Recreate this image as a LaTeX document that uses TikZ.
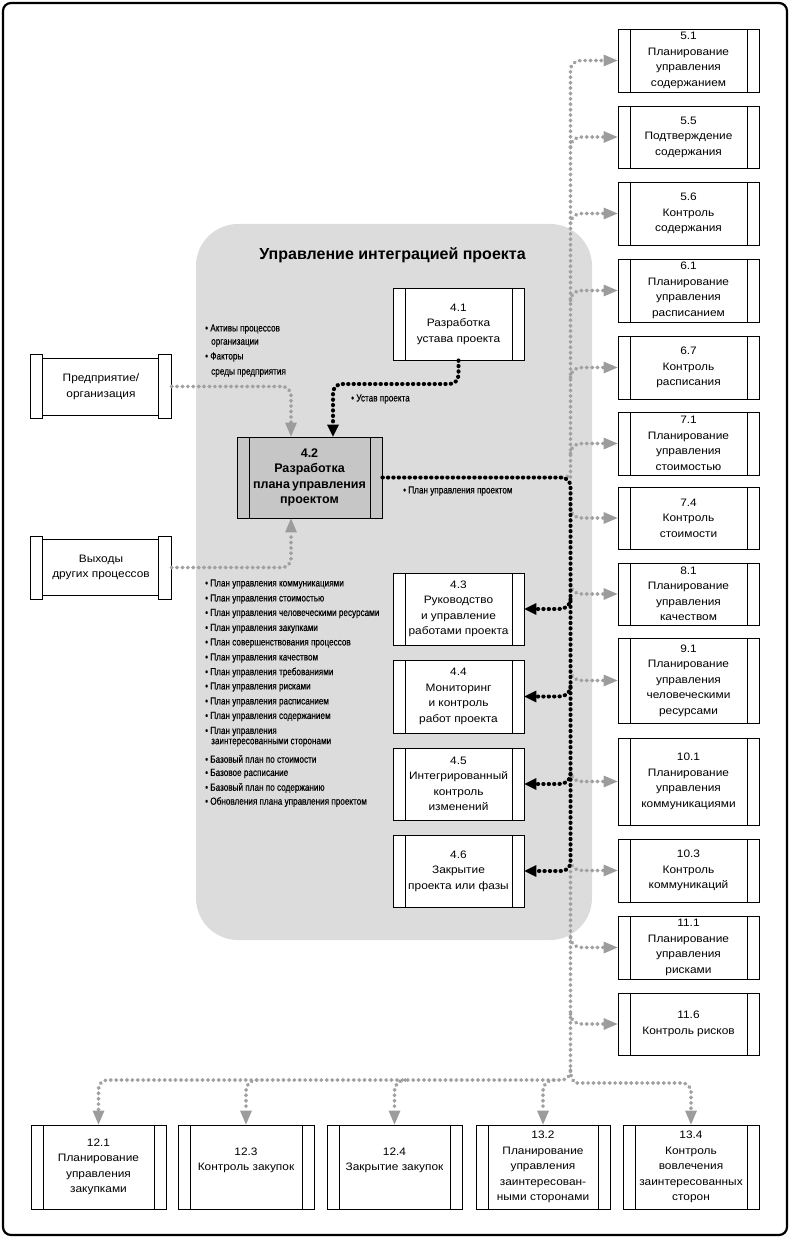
\documentclass[tikz,border=0pt]{standalone}
\usepackage{fontspec}
\setmainfont{Liberation Sans}
\newfontfamily\boxfont[FakeStretch=1.1]{Liberation Sans}
\newfontfamily\condfont[FakeStretch=0.8,FakeBold=0.3]{Liberation Sans}
\usetikzlibrary{arrows.meta}
\definecolor{areagray}{HTML}{DCDCDC}
\definecolor{boxgray}{HTML}{C6C6C6}
\definecolor{dotgray}{HTML}{A0A0A0}
\definecolor{tipgray}{HTML}{9C9C9C}
\tikzset{
  proc/.style={draw, line width=0.9pt, fill=white, inner sep=0pt, align=center,
    font=\boxfont\fontsize{10.8}{15.5}\selectfont,
    path picture={
      \draw[line width=0.8pt] ([xshift=12pt]path picture bounding box.north west) -- ([xshift=12pt]path picture bounding box.south west);
      \draw[line width=0.8pt] ([xshift=-12pt]path picture bounding box.north east) -- ([xshift=-12pt]path picture bounding box.south east);}},
  scrollbox/.style={draw, line width=0.9pt, fill=white, inner sep=0pt, align=center,
    font=\boxfont\fontsize{10.8}{15.5}\selectfont},
  capbox/.style={draw, line width=0.9pt, fill=white},
  gline/.style={draw=dotgray, line width=3.8pt, dash pattern=on 0.4pt off 5pt, line cap=round},
  bline/.style={draw=black, line width=4pt, dash pattern=on 0.4pt off 5pt, line cap=round},
  gtip/.style={-{Triangle[length=14pt,width=12pt,line width=0pt,color=tipgray]}},
  btip/.style={-{Triangle[length=12pt,width=12pt,line width=0pt,color=black]}},
  lbl/.style={font=\condfont\fontsize{10.2}{11}\selectfont, inner sep=0pt, anchor=west},
}
\begin{document}
\begin{tikzpicture}[x=1pt,y=-1pt]
\useasboundingbox (0,0) rectangle (790,1238);
% outer frame
\draw[line width=2.2pt, rounded corners=8pt] (3,3) rectangle (787,1235);
% integration area
\fill[areagray, rounded corners=42pt] (196,224) rectangle (592,940);
\node[font=\bfseries\fontsize{16}{18}\selectfont, inner sep=0pt] (title) at (392.5,255) {Управление интеграцией проекта};

% ---------- right column ----------
\node[proc, minimum width=141pt, minimum height=63pt] (p51) at (688.5,60.5) {5.1\\Планирование\\управления\\содержанием};
\node[proc, minimum width=141pt, minimum height=62pt] (p55) at (688.5,137) {5.5\\Подтверждение\\содержания};
\node[proc, minimum width=141pt, minimum height=63pt] (p56) at (688.5,213.5) {5.6\\Контроль\\содержания};
\node[proc, minimum width=141pt, minimum height=63pt] (p61) at (688.5,290.5) {6.1\\Планирование\\управления\\расписанием};
\node[proc, minimum width=141pt, minimum height=63pt] (p67) at (688.5,367.5) {6.7\\Контроль\\расписания};
\node[proc, minimum width=141pt, minimum height=63pt] (p71) at (688.5,443.5) {7.1\\Планирование\\управления\\стоимостью};
\node[proc, minimum width=141pt, minimum height=62pt] (p74) at (688.5,518) {7.4\\Контроль\\стоимости};
\node[proc, minimum width=141pt, minimum height=62pt] (p81) at (688.5,594) {8.1\\Планирование\\управления\\качеством};
\node[proc, minimum width=141pt, minimum height=85pt] (p91) at (688.5,680.5) {9.1\\Планирование\\управления\\человеческими\\ресурсами};
\node[proc, minimum width=141pt, minimum height=87pt] (p101) at (688.5,781.5) {10.1\\Планирование\\управления\\коммуникациями};
\node[proc, minimum width=141pt, minimum height=63pt] (p103) at (688.5,870.5) {10.3\\Контроль\\коммуникаций};
\node[proc, minimum width=141pt, minimum height=63pt] (p111) at (688.5,947.5) {11.1\\Планирование\\управления\\рисками};
\node[proc, minimum width=141pt, minimum height=62pt] (p116) at (688.5,1024) {11.6\\Контроль рисков};

% ---------- integration processes ----------
\node[proc, minimum width=131pt, minimum height=72pt] (p41) at (458.5,324) {4.1\\Разработка\\устава проекта};
\node[proc, fill=boxgray, minimum width=145pt, minimum height=81pt,
      font=\bfseries\fontsize{12.5}{15.2}\selectfont] (p42) at (309.5,477.5) {4.2\\Разработка\\плана\,управления\\проектом};
\node[proc, minimum width=131pt, minimum height=72pt] (p43) at (458.5,609) {4.3\\Руководство\\и управление\\работами проекта};
\node[proc, minimum width=131pt, minimum height=73pt] (p44) at (458.5,696.5) {4.4\\Мониторинг\\и контроль\\работ проекта};
\node[proc, minimum width=131pt, minimum height=72pt] (p45) at (458.5,784) {4.5\\Интегрированный\\контроль\\изменений};
\node[proc, minimum width=131pt, minimum height=72pt] (p46) at (458.5,871) {4.6\\Закрытие\\проекта или фазы};

% ---------- bottom row ----------
\node[proc, minimum width=135pt, minimum height=84pt] (p121) at (98.5,1167) {12.1\\Планирование\\управления\\закупками};
\node[proc, minimum width=136pt, minimum height=84pt] (p123) at (246,1167) {12.3\\Контроль закупок\\\mbox{}};
\node[proc, minimum width=135pt, minimum height=84pt] (p124) at (394.5,1167) {12.4\\Закрытие закупок\\\mbox{}};
\node[proc, minimum width=134pt, minimum height=84pt] (p132) at (543,1167) {13.2\\Планирование\\управления\\заинтересован-\\ными сторонами};
\node[proc, minimum width=136pt, minimum height=84pt] (p134) at (691,1167) {13.4\\Контроль\\вовлечения\\заинтересованных\\сторон};

% ---------- left inputs ----------
\node[scrollbox, minimum width=140pt, minimum height=57pt] (pent) at (101,386.5) {Предприятие/\\организация};
\draw[capbox] ([yshift=3pt]pent.north west) rectangle ([xshift=12pt,yshift=-3pt]pent.south west);
\draw[capbox] ([yshift=3pt]pent.north east) rectangle ([xshift=-13pt,yshift=-3pt]pent.south east);
\node[scrollbox, minimum width=140pt, minimum height=56pt] (pout) at (101,567.5) {Выходы\\других процессов};
\draw[capbox] ([yshift=3pt]pout.north west) rectangle ([xshift=12pt,yshift=-3pt]pout.south west);
\draw[capbox] ([yshift=3pt]pout.north east) rectangle ([xshift=-13pt,yshift=-3pt]pout.south east);

% ---------- labels ----------
\node[lbl] (la1) at (205,329) {\textbullet\ Активы процессов};
\node[lbl] (la2) at (211,343) {организации};
\node[lbl] (la3) at (205,357) {\textbullet\ Факторы};
\node[lbl] (la4) at (211,373) {среды предприятия};
\node[lbl] (lus) at (351,399) {\textbullet\ Устав проекта};
\node[lbl] (lpl) at (403,491) {\textbullet\ План управления проектом};
\node[lbl] (i1) at (205,584) {\textbullet\ План управления коммуникациями};
\node[lbl] (i2) at (205,599) {\textbullet\ План управления стоимостью};
\node[lbl] (i3) at (205,613.5) {\textbullet\ План управления человеческими ресурсами};
\node[lbl] (i4) at (205,628.5) {\textbullet\ План управления закупками};
\node[lbl] (i5) at (205,643) {\textbullet\ План совершенствования процессов};
\node[lbl] (i6) at (205,658) {\textbullet\ План управления качеством};
\node[lbl] (i7) at (205,672.5) {\textbullet\ План управления требованиями};
\node[lbl] (i8) at (205,687) {\textbullet\ План управления рисками};
\node[lbl] (i9) at (205,702) {\textbullet\ План управления расписанием};
\node[lbl] (i10) at (205,716.5) {\textbullet\ План управления содержанием};
\node[lbl] (i11) at (205,731.5) {\textbullet\ План управления};
\node[lbl] (i11b) at (211,742.5) {заинтересованными сторонами};
\node[lbl] (i12) at (205,759) {\textbullet\ Базовый план по стоимости};
\node[lbl] (i13) at (205,773.5) {\textbullet\ Базовое расписание};
\node[lbl] (i14) at (205,788) {\textbullet\ Базовый план по содержанию};
\node[lbl] (i15) at (205,802) {\textbullet\ Обновления плана управления проектом};

% ---------- gray connectors ----------
\draw[gline, gtip, rounded corners=9pt] (pent.east) -- (291,386.5) -- ([xshift=-18.5pt]p42.north);
\draw[gline, gtip, rounded corners=9pt] (pout.east) -- (291,567.5) -- ([xshift=-18.5pt]p42.south);
% trunk up
\draw[gline, gtip, rounded corners=10pt] (562,477.5) .. controls (567,477.5) and (570.5,474) .. (570.5,468) -- (570.5,60.5) -- (p51.west);
\foreach \n/\cy in {p55/137,p56/213.5,p61/290.5,p67/367.5,p71/443.5}{
  \draw[gline, gtip] (570.5,\cy+10) .. controls (570.5,\cy+4) and (575,\cy) .. (582,\cy) -- (\n.west);
}
\foreach \n/\cy in {p74/518,p81/594,p91/680.5,p101/781.5,p103/870.5,p111/947.5,p116/1024}{
  \draw[gline, gtip] (570.5,\cy-10) .. controls (570.5,\cy-4) and (575,\cy) .. (582,\cy) -- (\n.west);
}
% trunk down and bottom row
\draw[gline, gtip, rounded corners=9pt] (570.5,866) -- (570.5,1080) -- (98.5,1080) -- (p121.north);
\draw[gline, gtip, rounded corners=9pt] (570.5,1070) .. controls (570.5,1079) and (575,1083) .. (584,1083) -- (691,1083) -- (p134.north);
\foreach \n/\cx in {p123/246,p124/394.5,p132/543}{
  \draw[gline, gtip] (\cx+11,1080) .. controls (\cx+4,1080) and (\cx,1084) .. (\cx,1092) -- (\n.north);
}

% ---------- black connectors ----------
\draw[bline, btip, rounded corners=9pt] (p41.south) -- (458.5,384) -- (333,384) -- ([xshift=23.5pt]p42.north);
\draw[bline, btip, rounded corners=9pt] (p42.east) -- (570.5,477.5) -- (570.5,871) -- (p46.east);
\foreach \n/\cy in {p43/609,p44/696.5,p45/784}{
  \draw[bline, btip] (570.5,\cy-10) .. controls (570.5,\cy-4) and (566,\cy) .. (559,\cy) -- (\n.east);
}
\end{tikzpicture}
\end{document}
